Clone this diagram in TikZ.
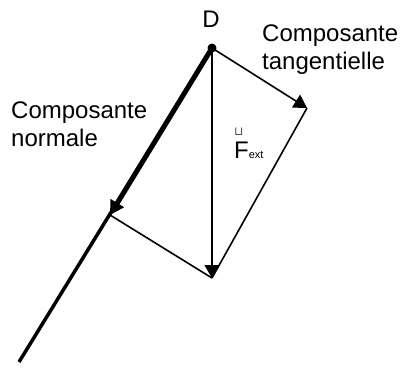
\documentclass[tikz,border=0pt]{standalone}
\usepackage{fontspec}
\setmainfont{Liberation Sans}
\newfontfamily\symfont{DejaVu Sans}
\usetikzlibrary{arrows.meta,positioning}

\begin{document}
\begin{tikzpicture}[x=1pt,y=-1pt,font=\fontsize{24}{28}\selectfont,
lbl/.style={inner sep=0pt,align=left,anchor=north west},
vec/.style={-{Triangle[length=13pt,width=15pt]},line width=1.6pt},
thin/.style={line width=1.6pt}]
\useasboundingbox (0,0) rectangle (402,368);
\coordinate (D) at (212,48);
\coordinate (T) at (307,108);
\coordinate (B) at (212,278);
\coordinate (N) at (110,215);
\coordinate (E) at (19,362);
% plan incline et composante normale
\draw[line width=3.5pt] (D)--(E);
\draw[line width=5pt,-{Triangle[length=14pt,width=15pt]}] (D)--(N);
\draw[thin] (T)--(B);
\draw[thin] (N)--(B);
\draw[vec] (D)--(T);
\draw[vec] (D)--(B);
\fill (D) circle (4.5);
\node[inner sep=0pt,anchor=base] (dlab) at (211,27) {D};
\node[lbl] (tang) at (262,25) {Composante\\tangentielle};
\node[lbl] (norm) at (11,102) {Composante\\normale};
\node[inner sep=0pt,anchor=base west] (fext) at (234,158) {F\fontsize{11}{13}\selectfont ext};
\node[inner sep=0pt,anchor=south west,font=\symfont\fontsize{12}{12}\selectfont,black!70] (cup) at (234,136) {⊔};
\end{tikzpicture}
\end{document}
